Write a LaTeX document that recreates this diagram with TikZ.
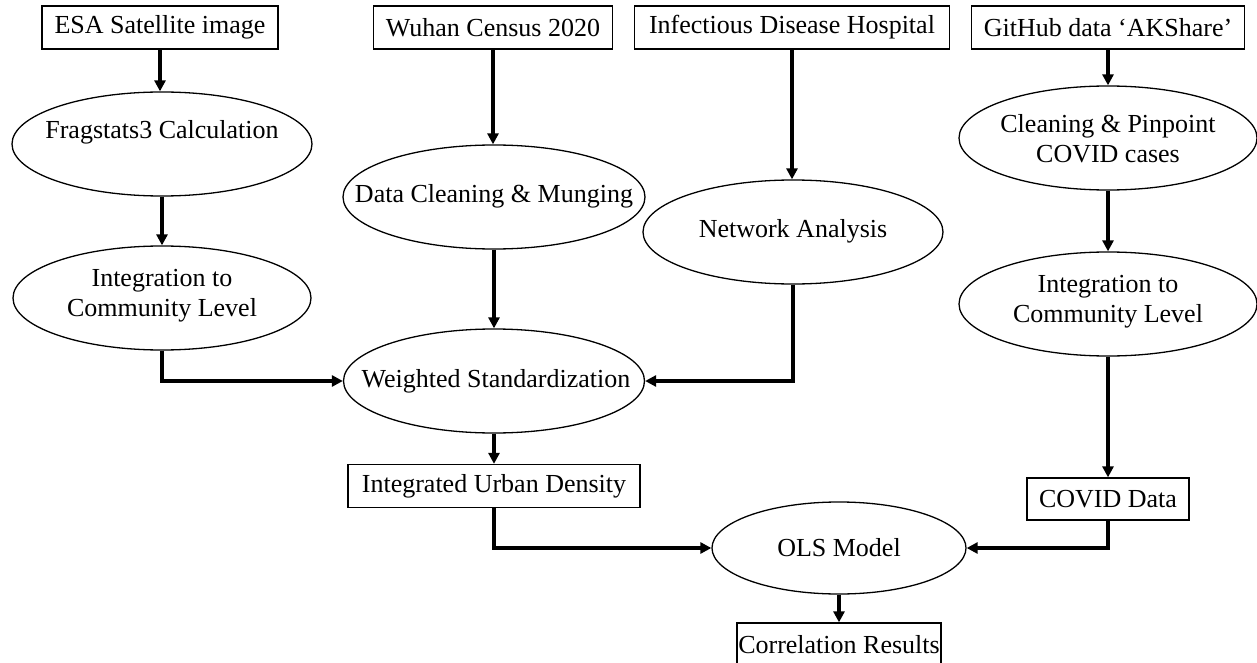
\documentclass[tikz,border=0pt]{standalone}
\usepackage{fontspec}
\setmainfont{Liberation Serif}
\usetikzlibrary{shapes.geometric,arrows.meta}
\begin{document}
\begin{tikzpicture}[x=1pt,y=-1pt,
  every node/.style={font=\fontsize{26}{30}\selectfont},
  box/.style={draw,line width=1.3pt,rectangle,inner sep=0pt,align=center},
  ell/.style={draw,line width=1.3pt,ellipse,inner sep=0pt},
  txt/.style={inner sep=0pt,align=center},
  arr/.style={line width=3.2pt,-{Triangle[length=11pt,width=11pt]}}]
\useasboundingbox (0,0) rectangle (1257,663);
% top boxes
\node[box,minimum width=236pt,minimum height=43pt] (esa) at (160,27.5) {ESA Satellite image};
\node[box,minimum width=239pt,minimum height=43pt] (wuhan) at (493,27.5) {Wuhan Census 2020};
\node[box,minimum width=315pt,minimum height=43pt] (hosp) at (792,27.5) {Infectious Disease Hospital};
\node[box,minimum width=273pt,minimum height=43pt] (git) at (1108,27.5) {GitHub data `AKShare'};
% ellipses (fixed size) with text laid over them
\node[ell,minimum width=300pt,minimum height=104pt] (frag) at (162,144) {};
\node[txt] (fragt) at (162,132) {Fragstats3 Calculation};
\node[ell,minimum width=298pt,minimum height=104pt] (intl) at (162,298) {};
\node[txt] (intlt) at (162,296) {Integration to\\Community Level};
\node[ell,minimum width=302pt,minimum height=104pt] (clean) at (494,197) {};
\node[txt] (cleant) at (494,196) {Data Cleaning \& Munging};
\node[ell,minimum width=300pt,minimum height=104pt] (net) at (793,232) {};
\node[txt] (nett) at (793,231) {Network Analysis};
\node[ell,minimum width=298pt,minimum height=104pt] (pin) at (1108,138) {};
\node[txt] (pint) at (1108,139) {Cleaning \& Pinpoint\\COVID cases};
\node[ell,minimum width=298pt,minimum height=104pt] (intr) at (1108,304) {};
\node[txt] (intrt) at (1108,302) {Integration to\\Community Level};
\node[ell,minimum width=301pt,minimum height=104pt] (wst) at (494,381) {};
\node[txt] (wstt) at (496,381) {Weighted Standardization};
% lower boxes
\node[box,minimum width=292pt,minimum height=43pt] (iud) at (494,486) {Integrated Urban Density};
\node[box,minimum width=162pt,minimum height=42pt] (cov) at (1108,499) {COVID Data};
\node[ell,minimum width=254pt,minimum height=92pt] (ols) at (839,548) {};
\node[txt] (olst) at (839,548) {OLS Model};
\node[box,minimum width=204pt,minimum height=44pt] (cor) at (839,645) {Correlation Results};
% arrows
\draw[arr] (esa.south) -- (esa.south |- frag.north);
\draw[arr] (frag.south) -- (frag.south |- intl.north);
\draw[arr] (intl.south) |- (wst.west);
\draw[arr] (wuhan.south) -- (wuhan.south |- clean.north);
\draw[arr] (clean.south) -- (wst.north);
\draw[arr] (hosp.south) -- (hosp.south |- net.north);
\draw[arr] (net.south) |- (wst.east);
\draw[arr] (wst.south) -- (wst.south |- iud.north);
\draw[arr] (iud.south) |- (ols.west);
\draw[arr] (git.south) -- (git.south |- pin.north);
\draw[arr] (pin.south) -- (intr.north);
\draw[arr] (intr.south) -- (intr.south |- cov.north);
\draw[arr] (cov.south) |- (ols.east);
\draw[arr] (ols.south) -- (ols.south |- cor.north);
\end{tikzpicture}
\end{document}
